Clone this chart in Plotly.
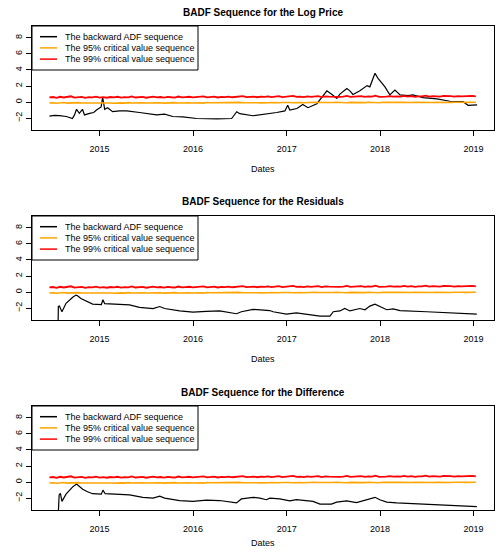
import plotly.graph_objects as go
import pandas as pd

# ---------------- data ----------------
logprice_dates = ["2014-06-19","2014-07-09","2014-07-28","2014-08-24","2014-09-17","2014-09-25","2014-10-03",
    "2014-10-14","2014-10-26","2014-11-03","2014-11-23","2014-12-09","2014-12-20","2015-01-07","2015-01-13",
    "2015-01-17","2015-01-21","2015-02-01","2015-02-21","2015-03-20","2015-04-17","2015-06-06","2015-08-12",
    "2015-09-12","2015-10-14","2015-11-22","2016-01-15","2016-04-03","2016-05-31","2016-06-20","2016-07-02",
    "2016-08-22","2016-10-27","2016-11-23","2016-12-25","2017-01-05","2017-01-13","2017-02-10","2017-03-05",
    "2017-03-25","2017-04-29","2017-05-18","2017-06-07","2017-06-27","2017-07-16","2017-07-28","2017-08-24",
    "2017-09-05","2017-09-17","2017-10-14","2017-11-11","2017-11-22","2017-12-12","2017-12-24","2018-01-20",
    "2018-02-08","2018-02-28","2018-03-20","2018-04-20","2018-05-09","2018-06-18","2018-08-11","2018-10-01",
    "2018-11-21","2018-12-11","2019-01-15"]
logprice_badf = [-1.75,-1.65,-1.7,-1.8,-2.05,-1.6,-0.9,-1.4,-0.9,-1.6,-1.4,-1.3,-1.0,-0.6,0.6,-0.3,-0.9,-0.7,
    -1.2,-1.1,-1.1,-1.3,-1.6,-1.5,-1.8,-1.85,-2.05,-2.1,-2.05,-1.2,-1.45,-1.7,-1.45,-1.3,-1.1,-0.4,-1.0,-0.8,
    -0.3,-0.7,-0.2,0.55,1.4,0.95,0.45,1.0,1.7,1.4,0.95,1.4,2.05,1.9,3.6,2.95,1.9,0.9,1.5,0.9,0.8,0.9,0.55,
    0.4,0.1,0.05,-0.4,-0.35]

resid_dates = ["2014-07-22","2014-07-24","2014-07-28","2014-08-07","2014-08-23","2014-09-05","2014-09-18",
    "2014-10-01","2014-10-07","2014-10-20","2014-11-09","2014-12-05","2015-01-08","2015-01-14","2015-01-21",
    "2015-03-07","2015-04-28","2015-06-06","2015-07-29","2015-08-24","2015-09-12","2015-11-10","2016-01-01",
    "2016-02-22","2016-04-14","2016-06-19","2016-07-08","2016-08-23","2016-10-27","2016-11-09","2016-12-31",
    "2017-02-08","2017-04-02","2017-05-11","2017-06-19","2017-07-02","2017-07-28","2017-08-16","2017-09-05",
    "2017-10-14","2017-11-03","2017-11-22","2017-12-12","2017-12-31","2018-01-27","2018-02-21","2018-03-20",
    "2018-07-02","2018-09-18","2019-01-14"]
resid_badf = [-6.0,-1.8,-1.75,-2.45,-1.4,-1.0,-0.65,-0.38,-0.45,-0.8,-1.1,-1.5,-1.55,-0.95,-1.45,-1.55,-1.6,
    -1.9,-2.05,-1.8,-2.05,-2.35,-2.5,-2.4,-2.35,-2.7,-2.45,-2.15,-2.3,-2.45,-2.75,-2.6,-2.8,-3.0,-3.0,-2.45,
    -2.35,-2.05,-2.35,-2.05,-2.2,-1.75,-1.5,-1.8,-2.2,-2.1,-2.3,-2.45,-2.55,-2.75]

diff_dates = ["2014-07-21","2014-07-27","2014-08-01","2014-08-07","2014-08-23","2014-09-05","2014-09-18",
    "2014-10-03","2014-10-14","2014-10-27","2014-11-15","2014-12-05","2015-01-08","2015-01-14","2015-01-23",
    "2015-03-07","2015-04-28","2015-06-19","2015-07-29","2015-08-24","2015-09-12","2015-11-10","2016-01-01",
    "2016-02-22","2016-04-14","2016-06-19","2016-07-08","2016-08-23","2016-09-18","2016-10-14","2016-10-27",
    "2016-12-05","2017-01-13","2017-02-08","2017-04-14","2017-05-11","2017-06-25","2017-07-15","2017-08-23",
    "2017-10-01","2017-11-09","2017-12-12","2017-12-31","2018-01-27","2018-03-07","2018-07-02","2018-10-01",
    "2019-01-14"]
diff_badf = [-6.0,-1.6,-1.4,-2.4,-1.5,-1.0,-0.6,-0.25,-0.55,-0.9,-1.2,-1.45,-1.5,-1.0,-1.45,-1.5,-1.6,-1.9,
    -2.0,-1.75,-2.0,-2.3,-2.4,-2.25,-2.3,-2.6,-2.1,-1.9,-2.0,-2.2,-2.0,-2.1,-2.35,-2.2,-2.4,-2.75,-2.75,-2.5,
    -2.35,-2.55,-2.2,-1.9,-2.2,-2.5,-2.6,-2.75,-2.9,-3.05]

cv_start = "2014-06-19"
cv_step_days = 14
cv95 = [-0.12,-0.08,-0.15,-0.10,-0.06,-0.13,-0.09,-0.14,-0.07,-0.11,-0.10,-0.15,-0.08,-0.12,-0.09,-0.13,-0.06,-0.11,-0.14,-0.09,
    -0.10,-0.13,-0.07,-0.12,-0.09,-0.14,-0.08,-0.11,-0.10,-0.06,-0.12,-0.09,-0.13,-0.08,-0.11,-0.07,-0.12,-0.10,-0.05,-0.09,
    -0.11,-0.07,-0.10,-0.13,-0.06,-0.09,-0.08,-0.12,-0.05,-0.10,-0.07,-0.11,-0.08,-0.04,-0.09,-0.07,-0.11,-0.06,-0.08,-0.10,
    -0.05,-0.09,-0.07,-0.03,-0.08,-0.06,-0.10,-0.05,-0.08,-0.04,-0.07,-0.09,-0.05,-0.07,-0.02,-0.06,-0.08,-0.04,-0.07,-0.05,
    -0.03,-0.07,-0.05,-0.08,-0.04,-0.06,-0.02,-0.05,-0.07,-0.03,-0.06,-0.04,-0.08,-0.03,-0.05,-0.01,-0.06,-0.04,-0.02,-0.05,
    -0.03,-0.06,-0.02,-0.04,-0.05,0.00,-0.03,-0.05,-0.02,-0.04,-0.01,-0.03,-0.05,-0.02,0.01,-0.03,-0.04,-0.01,-0.03,-0.02]
cv99 = [0.58,0.63,0.52,0.66,0.57,0.61,0.72,0.55,0.60,0.64,0.53,0.62,0.58,0.67,0.56,0.61,0.54,0.63,0.59,0.66,
    0.55,0.62,0.58,0.70,0.57,0.60,0.64,0.54,0.61,0.67,0.58,0.63,0.56,0.65,0.60,0.57,0.69,0.59,0.62,0.66,
    0.58,0.64,0.61,0.71,0.59,0.63,0.67,0.57,0.65,0.62,0.69,0.60,0.66,0.63,0.74,0.61,0.65,0.68,0.60,0.67,
    0.64,0.70,0.62,0.66,0.73,0.63,0.68,0.65,0.78,0.64,0.69,0.62,0.71,0.66,0.68,0.74,0.63,0.70,0.67,0.65,
    0.72,0.66,0.69,0.76,0.64,0.70,0.68,0.73,0.65,0.71,0.67,0.79,0.66,0.72,0.69,0.74,0.67,0.71,0.68,0.77,
    0.69,0.73,0.66,0.72,0.70,0.80,0.68,0.74,0.71,0.69,0.76,0.70,0.73,0.68,0.75,0.71,0.74,0.70,0.78,0.72]

titles = ["BADF Sequence for the Log Price", "BADF Sequence for the Residuals", "BADF Sequence for the Difference"]
legend_names = ["The backward ADF sequence", "The 95% critical value sequence", "The 99% critical value sequence"]
legend_colors = ["black", "orange", "red"]
x_title = "Dates"
year_ticks = ["2015-01-01", "2016-01-01", "2017-01-01", "2018-01-01", "2019-01-01"]
year_labels = ["2015", "2016", "2017", "2018", "2019"]
y_ticks = [-2, 0, 2, 4, 6, 8]

# ---------------- figure ----------------
W, H = 498, 550
FONT = "Liberation Sans, Arial, Helvetica, sans-serif"
cv_dates = pd.date_range(cv_start, periods=len(cv99), freq=f"{cv_step_days}D")

series = [(logprice_dates, logprice_badf), (resid_dates, resid_badf), (diff_dates, diff_badf)]
box_l, box_r = 32, 494
box_tb = [(26, 130), (216, 320), (406, 510)]
dates_label_y = [169, 359, 543]

def px(xp):
    return xp / W

def py(yp):
    return 1 - yp / H

fig = go.Figure()
layout = dict(width=W, height=H, margin=dict(l=0, r=0, t=0, b=0),
              paper_bgcolor="white", plot_bgcolor="white", showlegend=False,
              font=dict(family=FONT, size=9, color="black"))
annotations, shapes = [], []
for i, ((d, v), (top, bot)) in enumerate(zip(series, box_tb)):
    sfx = "" if i == 0 else str(i + 1)
    xa, ya = "x" + sfx, "y" + sfx
    fig.add_trace(go.Scatter(x=pd.to_datetime(d), y=v, mode="lines", name=legend_names[0],
                             line=dict(color=legend_colors[0], width=1.2), xaxis=xa, yaxis=ya))
    fig.add_trace(go.Scatter(x=cv_dates, y=cv95, mode="lines", name=legend_names[1],
                             line=dict(color=legend_colors[1], width=1.6), xaxis=xa, yaxis=ya))
    fig.add_trace(go.Scatter(x=cv_dates, y=cv99, mode="lines", name=legend_names[2],
                             line=dict(color=legend_colors[2], width=1.8), xaxis=xa, yaxis=ya))
    ydom = [py(bot), py(top)]
    layout["xaxis" + sfx] = dict(domain=[px(box_l), px(box_r)], anchor=ya, type="date",
                                 range=["2014-04-12", "2019-03-22"], tickvals=year_ticks, ticktext=year_labels,
                                 ticks="outside", ticklen=5, tickcolor="black", showgrid=False, zeroline=False,
                                 showline=True, linecolor="black", linewidth=1, mirror=True,
                                 tickfont=dict(size=9), ticklabelstandoff=5, automargin=False)
    layout["yaxis" + sfx] = dict(domain=ydom, anchor=xa, range=[-3.48, 9.48], tickvals=y_ticks,
                                 ticks="outside", ticklen=5, tickcolor="black", showgrid=False, zeroline=False,
                                 showline=True, linecolor="black", linewidth=1, mirror=True,
                                 tickangle=-90, tickfont=dict(size=9), automargin=False)
    # legend box (R-style, top-left of each panel)
    shapes.append(dict(type="rect", xref="paper", yref="paper", x0=px(box_l), x1=px(198),
                       y0=py(top + 44), y1=py(top), line=dict(color="black", width=1), fillcolor="white",
                       layer="above"))
    for k in range(3):
        yk = top + 10.7 + k * 11.2
        shapes.append(dict(type="line", xref="paper", yref="paper", x0=px(40), x1=px(57),
                           y0=py(yk), y1=py(yk), line=dict(color=legend_colors[k], width=1.5), layer="above"))
        annotations.append(dict(text=legend_names[k], x=px(63), y=py(yk), xref="paper", yref="paper",
                                showarrow=False, xanchor="left", yanchor="middle",
                                font=dict(size=9, family=FONT)))
    annotations.append(dict(text="<b>" + titles[i] + "</b>", x=px((box_l + box_r) / 2), y=py(top - 14),
                            xref="paper", yref="paper", showarrow=False, font=dict(size=10, family=FONT),
                            xanchor="center", yanchor="middle"))
    annotations.append(dict(text=x_title, x=px((box_l + box_r) / 2), y=py(dates_label_y[i]),
                            xref="paper", yref="paper", showarrow=False, font=dict(size=9, family=FONT),
                            xanchor="center", yanchor="middle"))
layout["annotations"] = annotations
layout["shapes"] = shapes
fig.update_layout(**layout)
fig.write_html("out.html")
